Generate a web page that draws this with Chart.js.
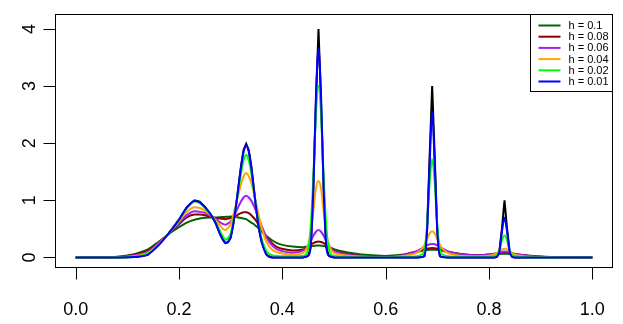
<!DOCTYPE html>
<html>
<head>
<meta charset="utf-8">
<script src="https://cdn.jsdelivr.net/npm/chart.js@4.4.1/dist/chart.umd.min.js"></script>
<style>
  html, body { margin: 0; padding: 0; background: #ffffff; }
  #wrap { width: 623px; height: 324px; position: relative; }
</style>
</head>
<body>
<div id="wrap"><canvas id="c" width="623" height="324"></canvas></div>
<script>
// ---- data ----
const X = [0, 0.05, 0.08, 0.10, 0.12, 0.14, 0.16, 0.18, 0.20, 0.215,
  0.23, 0.24, 0.25, 0.26, 0.27, 0.28, 0.285, 0.29, 0.295, 0.30,
  0.305, 0.31, 0.315, 0.32, 0.325, 0.33, 0.335, 0.34, 0.345, 0.35,
  0.355, 0.36, 0.37, 0.38, 0.39, 0.40, 0.42, 0.44, 0.445, 0.45,
  0.455, 0.46, 0.465, 0.47, 0.475, 0.48, 0.485, 0.49, 0.495, 0.50,
  0.52, 0.54, 0.56, 0.60, 0.63, 0.65, 0.66, 0.67, 0.675, 0.68,
  0.685, 0.69, 0.695, 0.70, 0.705, 0.71, 0.72, 0.73, 0.75, 0.78,
  0.80, 0.81, 0.815, 0.82, 0.825, 0.83, 0.835, 0.84, 0.845, 0.85,
  0.86, 0.88, 0.90, 0.95, 1.0];

const TRUE_DENSITY = [0, 0, 0, 0.002, 0.01, 0.05, 0.21, 0.42, 0.66, 0.88,
  1.0, 0.975, 0.89, 0.77, 0.62, 0.40, 0.31, 0.25, 0.27, 0.35,
  0.58, 0.88, 1.23, 1.6, 1.88, 1.99, 1.88, 1.6, 1.19, 0.81,
  0.49, 0.27, 0.04, 0, 0, 0, 0, 0, 0.01, 0.03,
  0.18, 1.2, 2.7, 4.0, 2.7, 1.2, 0.18, 0.03, 0.01, 0,
  0, 0, 0, 0, 0, 0, 0, 0.005, 0.02, 0.45,
  1.75, 3.0, 1.75, 0.45, 0.02, 0.005, 0, 0, 0, 0,
  0, 0, 0.01, 0.1, 0.5, 1.0, 0.5, 0.1, 0.01, 0,
  0, 0, 0, 0, 0];

const H_010 = [0, 0.002, 0.012, 0.035, 0.075, 0.14, 0.27, 0.41, 0.53, 0.61,
  0.66, 0.68, 0.695, 0.70, 0.70, 0.705, 0.708, 0.71, 0.712, 0.715,
  0.713, 0.71, 0.70, 0.69, 0.68, 0.67, 0.64, 0.61, 0.58, 0.54,
  0.50, 0.45, 0.37, 0.30, 0.25, 0.22, 0.19, 0.18, 0.185, 0.19,
  0.195, 0.20, 0.205, 0.21, 0.205, 0.20, 0.19, 0.175, 0.16, 0.145,
  0.10, 0.07, 0.045, 0.025, 0.045, 0.08, 0.095, 0.115, 0.125, 0.13,
  0.133, 0.135, 0.133, 0.13, 0.125, 0.115, 0.095, 0.08, 0.055, 0.04,
  0.045, 0.052, 0.056, 0.06, 0.063, 0.065, 0.063, 0.06, 0.056, 0.052,
  0.045, 0.03, 0.018, 0.005, 0.001];

const H_008 = [0, 0, 0.006, 0.025, 0.06, 0.12, 0.25, 0.42, 0.58, 0.70,
  0.75, 0.75, 0.74, 0.71, 0.69, 0.68, 0.675, 0.67, 0.68, 0.69,
  0.71, 0.73, 0.755, 0.775, 0.79, 0.79, 0.775, 0.74, 0.69, 0.63,
  0.56, 0.48, 0.35, 0.25, 0.18, 0.15, 0.12, 0.14, 0.16, 0.19,
  0.22, 0.25, 0.27, 0.28, 0.27, 0.25, 0.22, 0.18, 0.15, 0.12,
  0.07, 0.04, 0.02, 0.015, 0.035, 0.08, 0.10, 0.13, 0.145, 0.155,
  0.162, 0.165, 0.162, 0.155, 0.145, 0.13, 0.10, 0.08, 0.05, 0.04,
  0.05, 0.06, 0.068, 0.077, 0.085, 0.088, 0.085, 0.077, 0.068, 0.06,
  0.045, 0.025, 0.012, 0.003, 0];

const H_006 = [0, 0, 0.004, 0.016, 0.045, 0.10, 0.24, 0.42, 0.60, 0.74,
  0.81, 0.80, 0.78, 0.73, 0.68, 0.61, 0.585, 0.57, 0.595, 0.63,
  0.70, 0.79, 0.89, 0.98, 1.05, 1.08, 1.05, 0.99, 0.90, 0.79,
  0.67, 0.55, 0.34, 0.21, 0.14, 0.11, 0.08, 0.12, 0.15, 0.21,
  0.29, 0.38, 0.45, 0.48, 0.45, 0.38, 0.29, 0.21, 0.15, 0.11,
  0.06, 0.03, 0.015, 0.01, 0.03, 0.08, 0.11, 0.16, 0.19, 0.21,
  0.23, 0.235, 0.23, 0.21, 0.19, 0.16, 0.11, 0.08, 0.045, 0.035,
  0.05, 0.065, 0.075, 0.09, 0.10, 0.105, 0.10, 0.09, 0.075, 0.065,
  0.045, 0.02, 0.01, 0.002, 0];

const H_004 = [0, 0, 0.002, 0.01, 0.03, 0.08, 0.23, 0.42, 0.63, 0.80,
  0.88, 0.865, 0.82, 0.75, 0.66, 0.55, 0.50, 0.48, 0.52, 0.58,
  0.74, 0.92, 1.10, 1.28, 1.42, 1.48, 1.42, 1.30, 1.12, 0.92,
  0.71, 0.52, 0.26, 0.14, 0.09, 0.07, 0.05, 0.08, 0.12, 0.22,
  0.42, 0.8, 1.2, 1.34, 1.2, 0.8, 0.42, 0.22, 0.12, 0.08,
  0.04, 0.02, 0.01, 0.005, 0.02, 0.05, 0.08, 0.15, 0.22, 0.32,
  0.42, 0.46, 0.42, 0.32, 0.22, 0.15, 0.08, 0.05, 0.025, 0.02,
  0.03, 0.05, 0.08, 0.11, 0.14, 0.15, 0.14, 0.11, 0.08, 0.05,
  0.03, 0.01, 0.005, 0, 0];

const H_002 = [0, 0, 0, 0.004, 0.018, 0.065, 0.22, 0.42, 0.65, 0.86,
  0.98, 0.955, 0.87, 0.77, 0.63, 0.45, 0.37, 0.31, 0.34, 0.42,
  0.62, 0.88, 1.18, 1.47, 1.70, 1.80, 1.70, 1.47, 1.16, 0.84,
  0.55, 0.33, 0.10, 0.04, 0.025, 0.02, 0.02, 0.03, 0.05, 0.15,
  0.55, 1.4, 2.5, 3.0, 2.5, 1.4, 0.55, 0.15, 0.05, 0.03,
  0.01, 0, 0, 0, 0.005, 0.01, 0.02, 0.05, 0.12, 0.55,
  1.3, 1.72, 1.3, 0.55, 0.12, 0.05, 0.02, 0.01, 0.005, 0.005,
  0.01, 0.02, 0.05, 0.12, 0.3, 0.385, 0.3, 0.12, 0.05, 0.02,
  0.01, 0, 0, 0, 0];

const H_001 = [0, 0, 0, 0.002, 0.01, 0.05, 0.21, 0.42, 0.66, 0.87,
  0.99, 0.965, 0.88, 0.77, 0.62, 0.40, 0.31, 0.25, 0.27, 0.35,
  0.58, 0.88, 1.23, 1.57, 1.85, 1.96, 1.85, 1.57, 1.19, 0.81,
  0.49, 0.27, 0.04, 0, 0, 0, 0, 0, 0.01, 0.03,
  0.2, 1.2, 2.8, 3.65, 2.8, 1.2, 0.2, 0.03, 0.01, 0,
  0, 0, 0, 0, 0, 0, 0, 0.005, 0.03, 0.45,
  1.6, 2.56, 1.6, 0.45, 0.03, 0.005, 0, 0, 0, 0,
  0, 0, 0.01, 0.1, 0.45, 0.70, 0.45, 0.1, 0.01, 0,
  0, 0, 0, 0, 0];

const LEGEND_LABELS = ['h = 0.1', 'h = 0.08', 'h = 0.06', 'h = 0.04', 'h = 0.02', 'h = 0.01'];
const X_TICKS = [0, 0.2, 0.4, 0.6, 0.8, 1.0];
const X_TICK_LABELS = ['0.0', '0.2', '0.4', '0.6', '0.8', '1.0'];
const Y_TICKS = [0, 1, 2, 3, 4];
const Y_TICK_LABELS = ['0', '1', '2', '3', '4'];

// ---- build datasets ----
const COLORS = ['#006400', '#8B0000', '#A020F0', '#FFA500', '#00FF00', '#0000FF'];
const SERIES = [H_010, H_008, H_006, H_004, H_002, H_001];
const pts = (ys) => X.map((x, i) => ({ x: x, y: ys[i] }));

const datasets = [];
// index 0 is drawn on top in Chart.js, so list h = 0.01 first and the true density last
for (let k = SERIES.length - 1; k >= 0; k--) {
  datasets.push({
    label: LEGEND_LABELS[k],
    data: pts(SERIES[k]),
    borderColor: COLORS[k],
    borderWidth: 2,
    pointRadius: 0,
    fill: false,
    cubicInterpolationMode: 'monotone'
  });
}
datasets.push({
  label: 'true',
  data: pts(TRUE_DENSITY),
  borderColor: '#000000',
  borderWidth: 2,
  pointRadius: 0,
  fill: false,
  tension: 0
});

const FONT = "'Liberation Sans', Arial, Helvetica, sans-serif";

const axesPlugin = {
  id: 'rAxes',
  afterDraw(chart) {
    const ctx = chart.ctx;
    const a = chart.chartArea;
    const xs = chart.scales.x, ys = chart.scales.y;
    ctx.save();
    ctx.strokeStyle = '#000';
    ctx.lineWidth = 1;
    // frame
    ctx.strokeRect(Math.round(a.left) + 0.5, Math.round(a.top) + 0.5,
      Math.round(a.right - a.left) - 1, Math.round(a.bottom - a.top));
    const tl = 12;
    ctx.fillStyle = '#000';
    ctx.font = '18px ' + FONT;
    // x ticks
    const by = Math.round(a.bottom) + 0.5;
    ctx.beginPath();
    X_TICKS.forEach((v) => {
      const px = Math.round(xs.getPixelForValue(v)) + 0.5;
      ctx.moveTo(px, by); ctx.lineTo(px, by + tl);
    });
    ctx.stroke();
    ctx.textAlign = 'center';
    ctx.textBaseline = 'alphabetic';
    X_TICKS.forEach((v, i) => {
      ctx.fillText(X_TICK_LABELS[i], xs.getPixelForValue(v), by + 47);
    });
    // y ticks
    const lx = Math.round(a.left) + 0.5;
    ctx.beginPath();
    Y_TICKS.forEach((v) => {
      const py = Math.round(ys.getPixelForValue(v)) + 0.5;
      ctx.moveTo(lx, py); ctx.lineTo(lx - tl, py);
    });
    ctx.stroke();
    Y_TICKS.forEach((v, i) => {
      const py = ys.getPixelForValue(v);
      ctx.save();
      ctx.translate(lx - 21, py);
      ctx.rotate(-Math.PI / 2);
      ctx.textAlign = 'center';
      ctx.textBaseline = 'alphabetic';
      ctx.fillText(Y_TICK_LABELS[i], 0, 0);
      ctx.restore();
    });
    // legend (top right, inside the frame)
    const lw = 82, lh = 77;
    const L = Math.round(a.right) - lw - 0.5, T = Math.round(a.top) + 0.5;
    ctx.fillStyle = '#fff';
    ctx.fillRect(L, T, lw, lh);
    ctx.strokeRect(L, T, lw, lh);
    ctx.font = '11px ' + FONT;
    ctx.textAlign = 'left';
    ctx.textBaseline = 'middle';
    LEGEND_LABELS.forEach((lab, i) => {
      const y = T + 11 + i * 11.2;
      ctx.strokeStyle = COLORS[i];
      ctx.lineWidth = 2;
      ctx.beginPath();
      ctx.moveTo(L + 8, y); ctx.lineTo(L + 30, y);
      ctx.stroke();
      ctx.fillStyle = '#000';
      ctx.fillText(lab, L + 38, y + 0.5);
    });
    ctx.restore();
  }
};

new Chart(document.getElementById('c'), {
  type: 'line',
  data: { datasets: datasets },
  options: {
    responsive: false,
    animation: false,
    devicePixelRatio: 1,
    layout: { padding: { left: 55, right: 10, top: 14, bottom: 57 } },
    plugins: { legend: { display: false }, tooltip: { enabled: false } },
    scales: {
      x: { type: 'linear', min: -0.04, max: 1.04, display: false },
      y: { type: 'linear', min: -0.168, max: 4.263, display: false }
    }
  },
  plugins: [axesPlugin]
});
</script>
</body>
</html>
